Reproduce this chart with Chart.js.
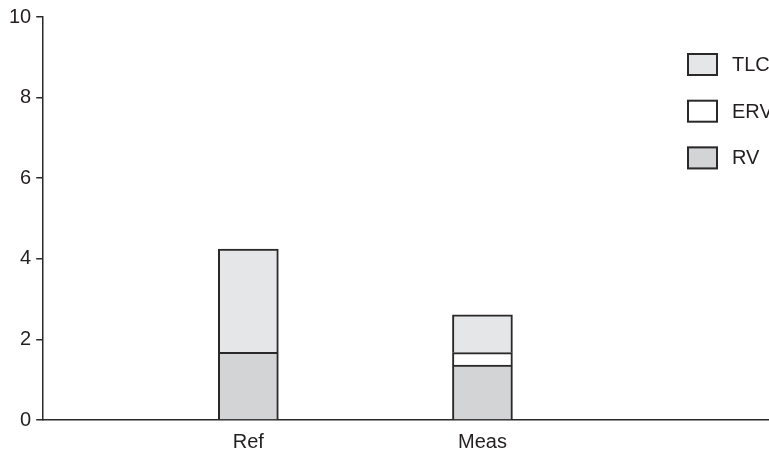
<!DOCTYPE html>
<html>
<head>
<meta charset="utf-8">
<script src="https://cdn.jsdelivr.net/npm/chart.js@4/dist/chart.umd.min.js"></script>
<style>
  html, body { margin: 0; padding: 0; background: #fff; overflow: hidden; }
  #wrap { width: 769px; height: 452px; }
</style>
</head>
<body>
<div id="wrap"><canvas id="c" width="769" height="452"></canvas></div>
<script>
// Lung volumes (litres), reference vs measured
const categories = ['Ref', 'Meas'];
const rvValues  = [1.68, 1.36];
const ervValues = [0, 0.31];
const tlcValues = [2.56, 0.94];
const yTicks = [0, 2, 4, 6, 8, 10];

const INK = '#2a2829';
const FONT = "'Liberation Sans', Arial, sans-serif";

const toPoints = vals => vals.map((v, i) => ({ x: i + 1, y: v }));

const barStyle = {
  borderColor: INK,
  borderWidth: { top: 2, left: 2, right: 2, bottom: 0 },
  borderSkipped: false,
  barThickness: 60,
};

// Legend drawn as a column inside the plot, top to bottom
const sideLegend = {
  id: 'sideLegend',
  afterDraw(chart, args, opts) {
    const ctx = chart.ctx;
    const items = chart.data.datasets.slice().reverse();
    ctx.save();
    ctx.font = '20px ' + FONT;
    ctx.textBaseline = 'middle';
    ctx.textAlign = 'left';
    items.forEach((ds, i) => {
      const y = opts.top + i * opts.step;
      ctx.fillStyle = ds.backgroundColor;
      ctx.fillRect(opts.left, y, opts.boxW, opts.boxH);
      ctx.lineWidth = 2;
      ctx.strokeStyle = INK;
      ctx.strokeRect(opts.left + 1, y + 1, opts.boxW - 2, opts.boxH - 2);
      ctx.fillStyle = '#231f20';
      ctx.fillText(ds.label, opts.left + opts.boxW + 14, y + opts.boxH / 2 + 1);
    });
    ctx.restore();
  }
};

new Chart(document.getElementById('c'), {
  type: 'bar',
  data: {
    datasets: [
      { label: 'RV',  data: toPoints(rvValues),  backgroundColor: '#d3d4d6', ...barStyle },
      { label: 'ERV', data: toPoints(ervValues), backgroundColor: '#ffffff', ...barStyle },
      { label: 'TLC', data: toPoints(tlcValues), backgroundColor: '#e5e6e8', ...barStyle },
    ]
  },
  options: {
    responsive: false,
    animation: false,
    events: [],
    layout: { padding: { top: 12, right: 0, bottom: -12, left: 4 } },
    plugins: {
      legend: { display: false },
      tooltip: { enabled: false },
      sideLegend: { left: 687, top: 53, step: 46.7, boxW: 31, boxH: 23 },
    },
    scales: {
      x: {
        type: 'linear',
        stacked: true,
        min: 0.124,
        max: 3.224,
        offset: false,
        border: { display: true, color: INK, width: 1.5 },
        grid: { display: false, drawTicks: false },
        afterBuildTicks: axis => { axis.ticks = categories.map((c, i) => ({ value: i + 1 })); },
        ticks: {
          autoSkip: false,
          maxRotation: 0,
          padding: 10,
          color: '#231f20',
          font: { family: FONT, size: 20 },
          callback: v => categories[v - 1] ?? '',
        },
      },
      y: {
        stacked: true,
        min: 0,
        max: 10,
        border: { display: true, color: INK, width: 1.5 },
        grid: { drawOnChartArea: false, drawTicks: true, tickLength: 7, color: INK, lineWidth: 1.5 },
        afterBuildTicks: axis => { axis.ticks = yTicks.map(v => ({ value: v })); },
        ticks: {
          padding: 5,
          color: '#231f20',
          font: { family: FONT, size: 20 },
        },
      },
    },
  },
  plugins: [sideLegend],
});
</script>
</body>
</html>
